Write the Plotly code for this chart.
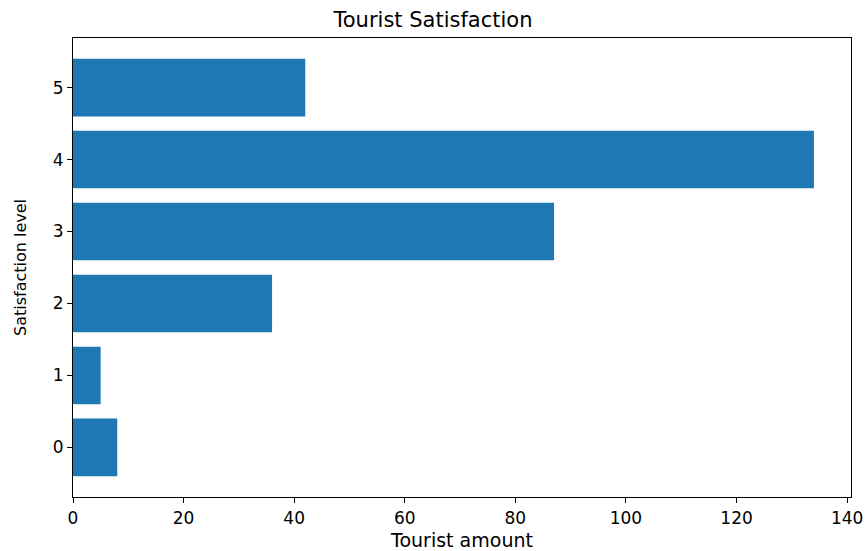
import plotly.graph_objects as go

levels = [0, 1, 2, 3, 4, 5]
amounts = [8, 5, 36, 87, 134, 42]
x_ticks = [0, 20, 40, 60, 80, 100, 120, 140]

fig = go.Figure(go.Bar(
    x=amounts, y=levels, orientation="h", width=0.8,
    marker=dict(color="#1f77b4", line=dict(width=0)),
))

axis_common = dict(
    showline=True, linecolor="black", linewidth=1.2, mirror=True,
    ticks="outside", ticklen=5, tickwidth=1, tickcolor="black",
    showgrid=False, zeroline=False, automargin=False,
    ticklabeloverflow="allow",
    tickfont=dict(family="DejaVu Sans", size=17, color="black"),
)

fig.update_layout(
    width=866, height=551,
    margin=dict(l=73, r=15, t=38, b=54),
    paper_bgcolor="white", plot_bgcolor="white",
    title=dict(text="Tourist Satisfaction", x=0.5, xanchor="center", y=0.965, yanchor="middle",
               font=dict(family="DejaVu Sans", size=21, color="black")),
    xaxis=dict(range=[0, 140.7], tickvals=x_ticks, title=dict(text="Tourist amount", standoff=8,
               font=dict(family="DejaVu Sans", size=19, color="black")), **axis_common),
    yaxis=dict(range=[-0.69, 5.69], tickvals=levels, title=dict(text="Satisfaction level", standoff=22,
               font=dict(family="DejaVu Sans", size=16, color="black")), **axis_common),
    showlegend=False,
)

fig.write_html("out.html")
